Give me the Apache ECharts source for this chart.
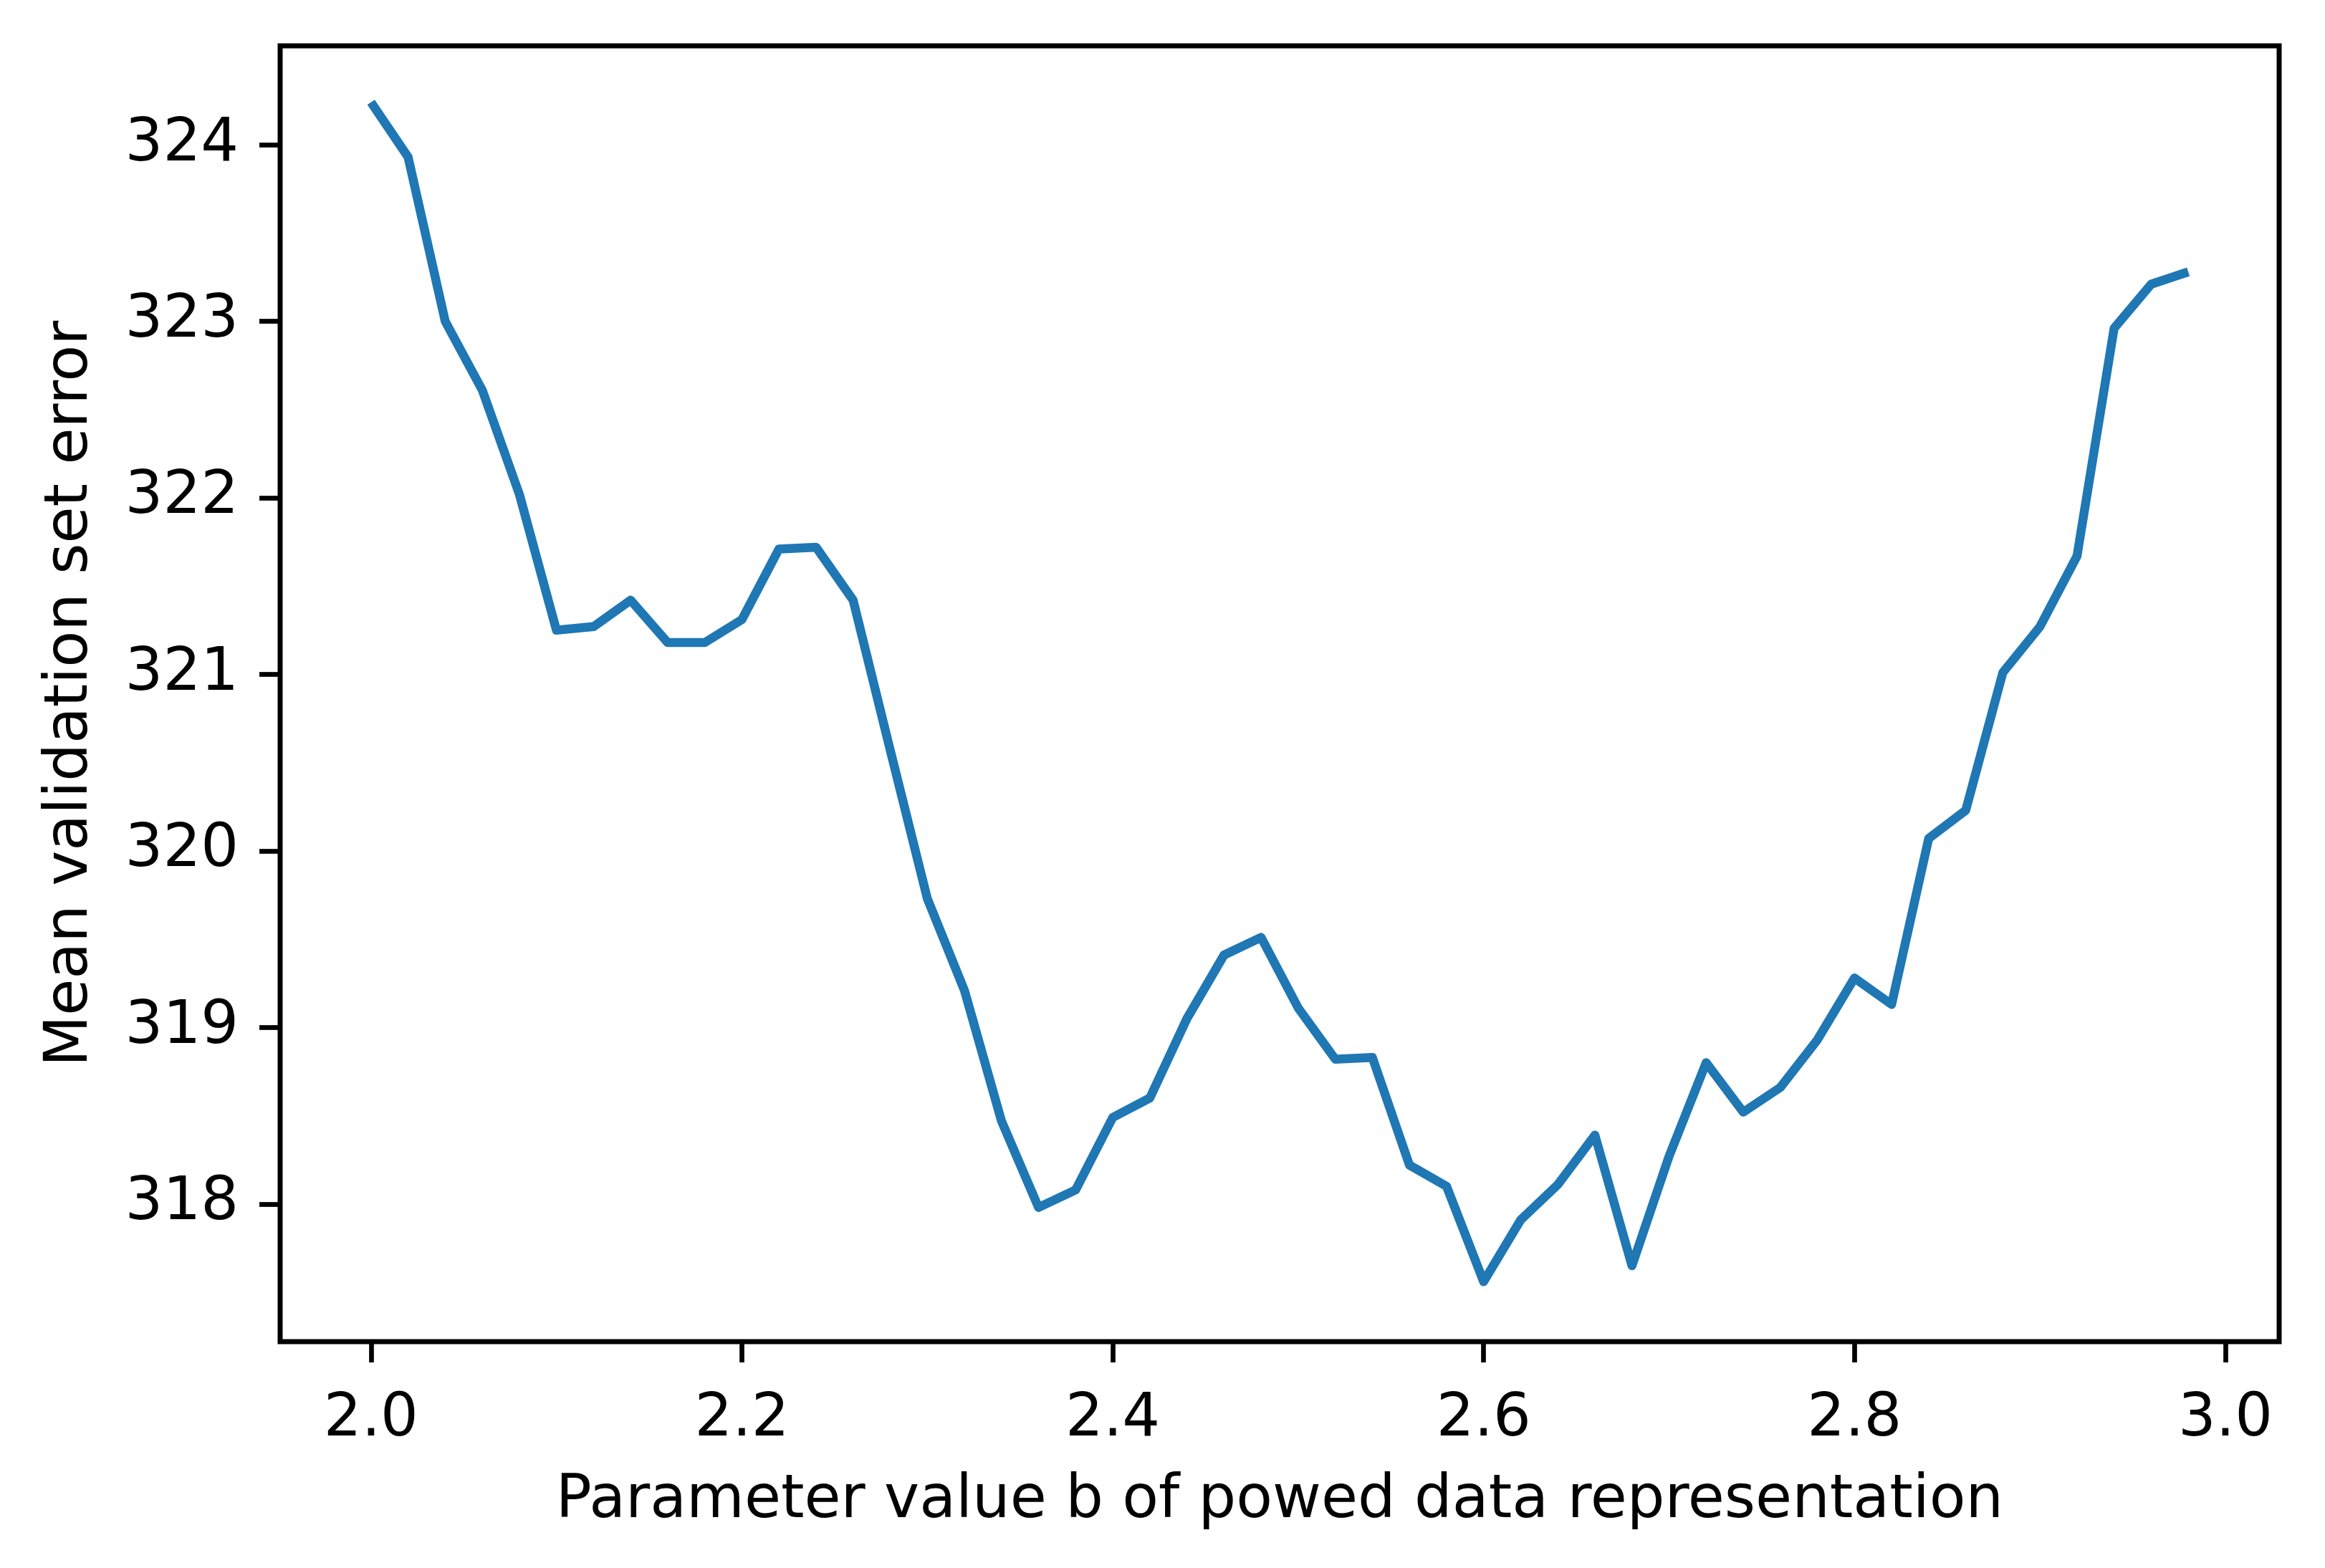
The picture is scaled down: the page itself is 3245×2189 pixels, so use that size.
<!DOCTYPE html>
<html lang="en">
<head>
    <meta charset="UTF-8">
    <title>Mean validation set error</title>
    <script src="https://cdn.jsdelivr.net/npm/echarts@6/dist/echarts.min.js"></script>
    <style>
        html, body { margin: 0; padding: 0; background: #fff; }
    </style>
</head>
<body>
<div id="main" style="width: 3245px;height:2189px;"></div>
<script type="text/javascript">
    // parameter b values (x) and mean validation error (y)
    var bValues = [2.00, 2.02, 2.04, 2.06, 2.08, 2.10, 2.12, 2.14, 2.16, 2.18,
                   2.20, 2.22, 2.24, 2.26, 2.28, 2.30, 2.32, 2.34, 2.36, 2.38,
                   2.40, 2.42, 2.44, 2.46, 2.48, 2.50, 2.52, 2.54, 2.56, 2.58,
                   2.60, 2.62, 2.64, 2.66, 2.68, 2.70, 2.72, 2.74, 2.76, 2.78,
                   2.80, 2.82, 2.84, 2.86, 2.88, 2.90, 2.92, 2.94, 2.96, 2.98];
    var meanErrors = [324.24, 323.93, 323.00, 322.61, 322.02, 321.25, 321.27, 321.42, 321.18, 321.18,
                      321.31, 321.71, 321.72, 321.42, 320.57, 319.73, 319.21, 318.47, 317.98, 318.08,
                      318.49, 318.60, 319.05, 319.41, 319.51, 319.11, 318.82, 318.83, 318.22, 318.10,
                      317.56, 317.91, 318.11, 318.39, 317.65, 318.27, 318.80, 318.52, 318.66, 318.93,
                      319.28, 319.13, 320.07, 320.23, 321.01, 321.27, 321.67, 322.96, 323.21, 323.28];
    var xTicks = [2.0, 2.2, 2.4, 2.6, 2.8, 3.0];
    var yTicks = [318, 319, 320, 321, 322, 323, 324];

    var points = bValues.map(function (b, i) { return [b, meanErrors[i]]; });

    var font = 'DejaVu Sans';
    var myChart = echarts.init(document.getElementById('main'));
    myChart.setOption({
        animation: false,
        backgroundColor: '#fff',
        textStyle: { fontFamily: font, color: '#000' },
        grid: {
            left: 391,
            right: 64,
            top: 64,
            bottom: 316,
            show: true,
            borderColor: '#000',
            borderWidth: 7,
            z: 10
        },
        xAxis: {
            type: 'value',
            min: 1.951,
            max: 3.029,
            name: 'Parameter value b of powed data representation',
            nameLocation: 'middle',
            nameGap: 182,
            nameTextStyle: { fontFamily: font, fontSize: 83, color: '#000' },
            axisLine: { show: false },
            splitLine: { show: false },
            axisTick: {
                show: true,
                length: 29,
                customValues: xTicks,
                lineStyle: { color: '#000', width: 6.7 }
            },
            axisLabel: {
                margin: 68,
                fontFamily: font,
                fontSize: 83,
                color: '#000',
                customValues: xTicks,
                formatter: function (v) { return v.toFixed(1); }
            }
        },
        yAxis: {
            type: 'value',
            min: 317.22,
            max: 324.56,
            name: 'Mean validation set error',
            nameLocation: 'middle',
            nameGap: 250,
            nameTextStyle: { fontFamily: font, fontSize: 83, color: '#000' },
            axisLine: { show: false },
            splitLine: { show: false },
            axisTick: {
                show: true,
                length: 29,
                customValues: yTicks,
                lineStyle: { color: '#000', width: 6.7 }
            },
            axisLabel: {
                margin: 58,
                fontFamily: font,
                fontSize: 83,
                color: '#000',
                customValues: yTicks,
                formatter: function (v) { return String(Math.round(v)); }
            }
        },
        series: [{
            type: 'line',
            data: points,
            showSymbol: false,
            symbol: 'none',
            lineStyle: { color: '#1f77b4', width: 12.5, join: 'round', cap: 'butt' }
        }]
    });
</script>
</body>
</html>
